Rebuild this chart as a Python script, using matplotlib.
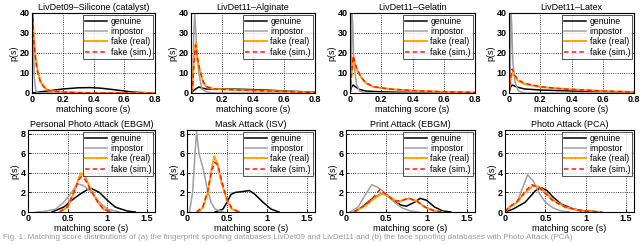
import matplotlib
matplotlib.use("Agg")
import matplotlib.pyplot as plt

plt.rcParams['font.family'] = ['Liberation Sans', 'DejaVu Sans']

# ---- top row: fingerprint datasets (x: matching score, y: p(s)) ----
top_titles = ["LivDet09\u2013Silicone (catalyst)", "LivDet11\u2013Alginate",
              "LivDet11\u2013Gelatin", "LivDet11\u2013Latex"]

silicone_gen_x = [0.0, 0.05, 0.1, 0.2, 0.3, 0.38, 0.45, 0.55, 0.65, 0.75, 0.8]
silicone_gen_y = [0.0, 0.5, 1.0, 2.0, 2.6, 2.7, 2.4, 1.5, 0.5, 0.1, 0.0]
silicone_imp_x = [0.0, 0.004, 0.008, 0.015, 0.025, 0.035, 0.1, 0.8]
silicone_imp_y = [0.0, 45.0, 30.0, 8.0, 1.0, 0.0, 0.0, 0.0]
silicone_real_x = [0.0, 0.005, 0.01, 0.02, 0.03, 0.04, 0.06, 0.09, 0.12, 0.2, 0.3, 0.4, 0.8]
silicone_real_y = [0.0, 40.0, 30.0, 20.0, 14.0, 10.0, 5.0, 2.0, 1.0, 0.5, 0.2, 0.0, 0.0]
silicone_sim_x = [0.0, 0.005, 0.01, 0.02, 0.03, 0.04, 0.06, 0.09, 0.12, 0.2, 0.3, 0.4, 0.8]
silicone_sim_y = [0.0, 40.0, 28.0, 19.0, 13.0, 9.0, 4.5, 2.0, 1.0, 0.5, 0.2, 0.0, 0.0]

alginate_gen_x = [0.0, 0.02, 0.05, 0.08, 0.1, 0.2, 0.3, 0.4, 0.5, 0.6, 0.7, 0.8]
alginate_gen_y = [0.0, 1.5, 3.0, 2.3, 2.0, 2.0, 1.9, 1.7, 1.4, 1.0, 0.7, 0.4]
alginate_imp_x = [0.0, 0.01, 0.018, 0.024, 0.03, 0.04, 0.05, 0.07, 0.1, 0.15, 0.8]
alginate_imp_y = [0.0, 2.0, 30.0, 40.0, 32.0, 18.0, 10.0, 2.0, 0.5, 0.0, 0.0]
alginate_real_x = [0.0, 0.01, 0.02, 0.03, 0.045, 0.06, 0.08, 0.1, 0.15, 0.3, 0.5, 0.7, 0.8]
alginate_real_y = [0.0, 4.0, 18.0, 25.0, 15.0, 10.0, 5.0, 3.0, 2.0, 1.5, 1.0, 0.5, 0.3]
alginate_sim_x = [0.0, 0.01, 0.02, 0.03, 0.045, 0.06, 0.08, 0.1, 0.15, 0.3, 0.5, 0.7, 0.8]
alginate_sim_y = [0.0, 3.0, 16.0, 24.0, 16.0, 10.5, 5.5, 3.2, 2.0, 1.5, 1.0, 0.5, 0.3]

gelatin_gen_x = [0.0, 0.01, 0.02, 0.04, 0.06, 0.1, 0.2, 0.3, 0.5, 0.8]
gelatin_gen_y = [0.0, 3.0, 4.0, 2.8, 1.8, 1.0, 0.6, 0.4, 0.2, 0.0]
gelatin_imp_x = [0.0, 0.008, 0.013, 0.017, 0.025, 0.04, 0.06, 0.1, 0.8]
gelatin_imp_y = [0.0, 10.0, 40.0, 35.0, 15.0, 5.0, 1.0, 0.0, 0.0]
gelatin_real_x = [0.0, 0.01, 0.02, 0.04, 0.07, 0.1, 0.15, 0.25, 0.4, 0.6, 0.8]
gelatin_real_y = [0.0, 10.0, 18.0, 12.0, 8.0, 5.0, 3.0, 2.0, 1.2, 0.6, 0.3]
gelatin_sim_x = [0.0, 0.01, 0.02, 0.04, 0.07, 0.1, 0.15, 0.25, 0.4, 0.6, 0.8]
gelatin_sim_y = [0.0, 9.0, 18.5, 13.0, 8.0, 5.2, 3.2, 2.0, 1.2, 0.6, 0.3]

latex_gen_x = [0.0, 0.01, 0.02, 0.05, 0.1, 0.2, 0.4, 0.6, 0.8]
latex_gen_y = [0.0, 3.0, 4.0, 3.0, 2.0, 1.5, 1.0, 0.7, 0.4]
latex_imp_x = [0.0, 0.008, 0.013, 0.017, 0.025, 0.04, 0.06, 0.1, 0.8]
latex_imp_y = [0.0, 10.0, 40.0, 35.0, 15.0, 5.0, 1.0, 0.0, 0.0]
latex_real_x = [0.0, 0.01, 0.02, 0.04, 0.06, 0.1, 0.2, 0.35, 0.6, 0.8]
latex_real_y = [0.0, 7.0, 10.0, 8.0, 6.0, 4.5, 3.0, 2.0, 1.0, 0.5]
latex_sim_x = [0.0, 0.01, 0.02, 0.04, 0.06, 0.1, 0.2, 0.35, 0.6, 0.8]
latex_sim_y = [0.0, 8.0, 12.0, 8.5, 6.5, 4.8, 3.2, 2.0, 1.0, 0.5]

# ---- bottom row: face datasets ----
bottom_titles = ["Personal Photo Attack (EBGM)", "Mask Attack (ISV)",
                 "Print Attack (EBGM)", "Photo Attack (PCA)"]

pphoto_gen_x = [0.3, 0.45, 0.55, 0.65, 0.75, 0.8, 0.9, 1.0, 1.1, 1.25, 1.35]
pphoto_gen_y = [0.0, 0.5, 1.2, 1.8, 2.3, 2.4, 2.0, 1.2, 0.5, 0.1, 0.0]
pphoto_imp_x = [0.1, 0.2, 0.35, 0.45, 0.55, 0.62, 0.7, 0.8, 0.9, 1.0, 1.15]
pphoto_imp_y = [0.0, 0.05, 0.3, 1.0, 2.0, 2.9, 2.7, 2.0, 1.0, 0.3, 0.0]
pphoto_real_x = [0.4, 0.5, 0.58, 0.64, 0.67, 0.72, 0.78, 0.88, 0.95, 1.05]
pphoto_real_y = [0.0, 0.5, 2.0, 3.5, 4.0, 3.6, 2.5, 1.0, 0.3, 0.0]
pphoto_sim_x = [0.4, 0.5, 0.58, 0.64, 0.67, 0.72, 0.78, 0.88, 0.95, 1.05]
pphoto_sim_y = [0.0, 0.6, 2.1, 3.3, 3.6, 3.3, 2.4, 1.0, 0.3, 0.0]

mask_gen_x = [0.35, 0.45, 0.5, 0.55, 0.6, 0.7, 0.78, 0.85, 0.95, 1.05, 1.15]
mask_gen_y = [0.0, 0.3, 1.0, 1.8, 2.0, 2.1, 2.2, 1.8, 1.0, 0.3, 0.0]
mask_imp_x = [0.03, 0.07, 0.1, 0.12, 0.15, 0.2, 0.25, 0.3, 0.35, 0.45]
mask_imp_y = [0.0, 2.0, 6.0, 8.2, 6.0, 4.5, 2.5, 1.0, 0.3, 0.0]
mask_real_x = [0.15, 0.2, 0.26, 0.31, 0.34, 0.38, 0.43, 0.5, 0.56, 0.65]
mask_real_y = [0.0, 0.5, 2.0, 4.5, 5.7, 5.0, 3.0, 1.2, 0.3, 0.0]
mask_sim_x = [0.12, 0.2, 0.26, 0.31, 0.35, 0.39, 0.44, 0.5, 0.56, 0.65]
mask_sim_y = [0.0, 0.6, 2.2, 4.3, 5.1, 4.7, 3.0, 1.3, 0.4, 0.0]

print_gen_x = [0.1, 0.2, 0.3, 0.42, 0.48, 0.58, 0.68, 0.75, 0.85, 0.92, 1.0, 1.1, 1.2, 1.3]
print_gen_y = [0.0, 0.5, 1.2, 1.8, 1.9, 1.3, 0.7, 0.6, 1.0, 1.4, 1.2, 0.5, 0.1, 0.0]
print_imp_x = [0.05, 0.15, 0.22, 0.32, 0.4, 0.5, 0.6, 0.7, 0.8, 0.9]
print_imp_y = [0.0, 0.5, 1.5, 2.8, 2.5, 1.8, 1.0, 0.4, 0.1, 0.0]
print_real_x = [0.1, 0.25, 0.35, 0.45, 0.55, 0.65, 0.73, 0.78, 0.88, 0.98, 1.1, 1.2]
print_real_y = [0.0, 0.7, 1.4, 1.9, 1.5, 1.0, 1.3, 1.4, 1.1, 0.5, 0.1, 0.0]
print_sim_x = [0.1, 0.25, 0.35, 0.42, 0.5, 0.6, 0.7, 0.78, 0.88, 0.98, 1.1, 1.2]
print_sim_y = [0.0, 0.8, 1.6, 2.3, 1.8, 1.1, 1.2, 1.4, 1.1, 0.5, 0.1, 0.0]

pca_gen_x = [0.0, 0.1, 0.25, 0.38, 0.45, 0.52, 0.6, 0.7, 0.85, 1.0, 1.2]
pca_gen_y = [0.0, 0.3, 1.0, 2.2, 2.5, 2.2, 1.5, 0.8, 0.3, 0.1, 0.0]
pca_imp_x = [0.0, 0.05, 0.15, 0.22, 0.28, 0.35, 0.42, 0.5, 0.6, 0.7, 0.8]
pca_imp_y = [0.0, 0.4, 1.0, 2.5, 3.8, 3.2, 2.0, 1.0, 0.4, 0.1, 0.0]
pca_real_x = [0.0, 0.05, 0.15, 0.25, 0.35, 0.42, 0.5, 0.6, 0.75, 0.95, 1.2]
pca_real_y = [0.0, 0.5, 1.0, 2.0, 2.7, 2.6, 2.0, 1.2, 0.5, 0.1, 0.0]
pca_sim_x = [0.0, 0.05, 0.15, 0.25, 0.33, 0.42, 0.5, 0.6, 0.75, 0.95, 1.2]
pca_sim_y = [0.0, 0.5, 1.1, 2.1, 2.8, 2.5, 1.9, 1.1, 0.5, 0.1, 0.0]

top_data = [
    (silicone_gen_x, silicone_gen_y, silicone_imp_x, silicone_imp_y,
     silicone_real_x, silicone_real_y, silicone_sim_x, silicone_sim_y),
    (alginate_gen_x, alginate_gen_y, alginate_imp_x, alginate_imp_y,
     alginate_real_x, alginate_real_y, alginate_sim_x, alginate_sim_y),
    (gelatin_gen_x, gelatin_gen_y, gelatin_imp_x, gelatin_imp_y,
     gelatin_real_x, gelatin_real_y, gelatin_sim_x, gelatin_sim_y),
    (latex_gen_x, latex_gen_y, latex_imp_x, latex_imp_y,
     latex_real_x, latex_real_y, latex_sim_x, latex_sim_y),
]
bottom_data = [
    (pphoto_gen_x, pphoto_gen_y, pphoto_imp_x, pphoto_imp_y,
     pphoto_real_x, pphoto_real_y, pphoto_sim_x, pphoto_sim_y),
    (mask_gen_x, mask_gen_y, mask_imp_x, mask_imp_y,
     mask_real_x, mask_real_y, mask_sim_x, mask_sim_y),
    (print_gen_x, print_gen_y, print_imp_x, print_imp_y,
     print_real_x, print_real_y, print_sim_x, print_sim_y),
    (pca_gen_x, pca_gen_y, pca_imp_x, pca_imp_y,
     pca_real_x, pca_real_y, pca_sim_x, pca_sim_y),
]

W, H = 640, 244
fig = plt.figure(figsize=(W / 100, H / 100), dpi=100)

top_left = [32, 191, 350, 509]
top_right = [155, 315, 475, 634]
bot_left = [28, 187, 346, 505]
bot_right = [155, 315, 475, 634]


def style_axis(ax, title, xlim, ylim, xticks, yticks, xticklabels):
    ax.set_xlim(*xlim)
    ax.set_ylim(*ylim)
    ax.set_xticks(xticks)
    ax.set_xticklabels(xticklabels)
    ax.set_yticks(yticks)
    ax.grid(True, color='black', linestyle=':', linewidth=0.6)
    ax.tick_params(direction='in', length=2, labelsize=6.5, pad=1.5, width=0.6)
    for lab in ax.get_xticklabels() + ax.get_yticklabels():
        lab.set_fontweight('bold')
    for sp in ax.spines.values():
        sp.set_linewidth(0.8)
    ax.set_title(title, fontsize=6.5, pad=2.5)
    ax.set_xlabel("matching score (s)", fontsize=6.5, labelpad=1)
    ax.set_ylabel("p(s)", fontsize=6.5, labelpad=1)


def draw(ax, d):
    gx, gy, ix, iy, rx, ry, sx, sy = d
    ax.plot(gx, gy, color='black', lw=1.1, label='genuine')
    ax.plot(ix, iy, color='#a0a0a0', lw=1.1, label='impostor')
    ax.plot(rx, ry, color='#ffa500', lw=1.4, marker='+', markersize=2,
            markeredgewidth=0.5, label='fake (real)')
    ax.plot(sx, sy, color='#ff1a1a', lw=1.1, ls=(0, (3, 2)), label='fake (sim.)')
    leg = ax.legend(loc='upper right', fontsize=6.2, frameon=True, fancybox=False,
                    handlelength=2.6, handletextpad=0.4, borderpad=0.25,
                    labelspacing=0.15, borderaxespad=0.2)
    leg.get_frame().set_edgecolor('black')
    leg.get_frame().set_linewidth(0.6)


for i in range(4):
    ax = fig.add_axes([top_left[i] / W, (H - 93) / H,
                       (top_right[i] - top_left[i]) / W, 80 / H])
    draw(ax, top_data[i])
    style_axis(ax, top_titles[i], (0, 0.8), (0, 40),
               [0, 0.2, 0.4, 0.6, 0.8], [0, 10, 20, 30, 40],
               ['0', '0.2', '0.4', '0.6', '0.8'])

for i in range(4):
    ax = fig.add_axes([bot_left[i] / W, (H - 212) / H,
                       (bot_right[i] - bot_left[i]) / W, 82 / H])
    draw(ax, bottom_data[i])
    style_axis(ax, bottom_titles[i], (0, 1.6), (0, 8.4),
               [0, 0.5, 1, 1.5], [0, 2, 4, 6, 8],
               ['0', '0.5', '1', '1.5'])

fig.text(0.005, 3 / H, "Fig. 1: Matching score distributions of (a) the fingerprint spoofing "
         "databases LivDet09 and LivDet11 and (b) the face spoofing databases with Photo Attack (PCA)",
         fontsize=5.8, color='#9a9a9a', va='bottom', ha='left')

fig.savefig("out.png", dpi=100)
